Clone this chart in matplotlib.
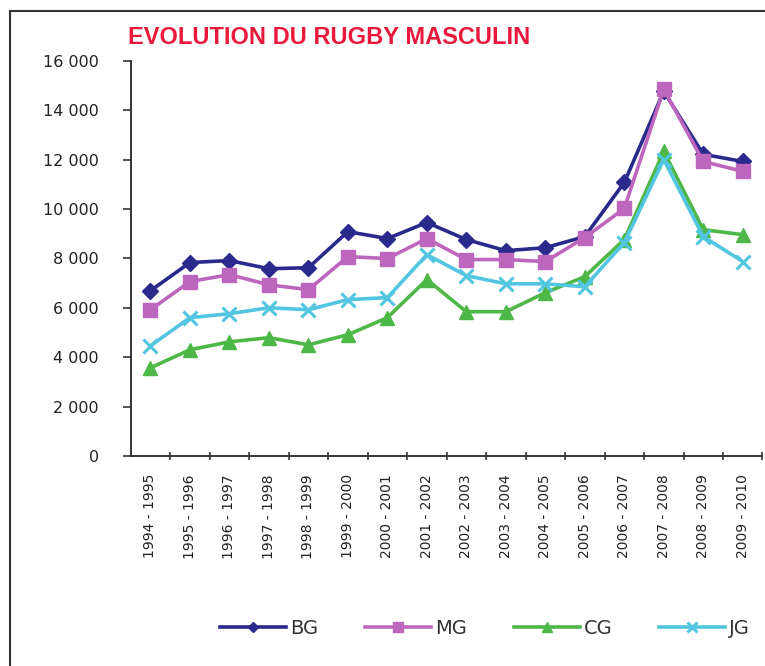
"""
Evolution du rugby masculin - line chart with 4 age categories.
"""
import matplotlib
matplotlib.use('Agg')
import matplotlib.pyplot as plt
from matplotlib.lines import Line2D

seasons = ['1994 - 1995', '1995 - 1996', '1996 - 1997', '1997 - 1998',
           '1998 - 1999', '1999 - 2000', '2000 - 2001', '2001 - 2002',
           '2002 - 2003', '2003 - 2004', '2004 - 2005', '2005 - 2006',
           '2006 - 2007', '2007 - 2008', '2008 - 2009', '2009 - 2010']

bg = [6690, 7830, 7910, 7580, 7620, 9080, 8800, 9450,
      8760, 8310, 8430, 8880, 11070, 14760, 12210, 11920]
mg = [5920, 7060, 7340, 6930, 6730, 8070, 7990, 8800,
      7950, 7950, 7870, 8840, 10020, 14840, 11920, 11520]
cg = [3570, 4300, 4620, 4790, 4500, 4910, 5600, 7140,
      5840, 5840, 6610, 7260, 8760, 12330, 9160, 8960]
jg = [4460, 5600, 5760, 6000, 5920, 6330, 6410, 8150,
      7300, 6970, 6970, 6850, 8640, 12000, 8880, 7870]

y_ticks = [0, 2000, 4000, 6000, 8000, 10000, 12000, 14000, 16000]
y_labels = ['0', '2 000', '4 000', '6 000', '8 000', '10 000',
            '12 000', '14 000', '16 000']

fig = plt.figure(figsize=(7.65, 6.66), dpi=100)
ax = fig.add_axes([0.1709, 0.3153, 0.8258, 0.5936])

x = range(len(seasons))
ax.plot(x, bg, color='#2a2a8c', lw=2.6, marker='D', ms=8, label='BG', zorder=3)
ax.plot(x, mg, color='#bd66bd', lw=2.6, marker='s', ms=10, label='MG', zorder=4)
ax.plot(x, cg, color='#4db848', lw=2.6, marker='^', ms=10, label='CG', zorder=5)
ax.plot(x, jg, color='#52c6e0', lw=2.6, marker='x', ms=10, mew=2.2,
        label='JG', zorder=6)

ax.set_xlim(-0.5, len(seasons) - 0.5)
ax.set_ylim(0, 16000)
ax.set_yticks(y_ticks)
ax.set_yticklabels(y_labels, fontsize=11.5, color='#222222')
ax.tick_params(axis='y', length=6, width=1.2, pad=17, color='#333333')

ax.set_xticks(list(x))
ax.set_xticklabels(seasons, rotation=90, fontsize=10, color='#222222')
ax.tick_params(axis='x', length=0, pad=13)
ax.set_xticks([i - 0.5 for i in range(1, len(seasons) + 1)], minor=True)
ax.tick_params(axis='x', which='minor', direction='inout', length=6,
               width=1.2, color='#333333')

for side in ('top', 'right'):
    ax.spines[side].set_visible(False)
for side in ('left', 'bottom'):
    ax.spines[side].set_linewidth(1.4)
    ax.spines[side].set_color('#333333')

leg = fig.legend(loc='center', bbox_to_anchor=(0.634, 0.057), ncol=4,
                 frameon=False, fontsize=14, handlelength=3.4,
                 columnspacing=2.4, handletextpad=0.2, markerscale=0.7)
for t in leg.get_texts():
    t.set_color('#333333')

fig.text(0.167, 0.943, 'EVOLUTION DU RUGBY MASCULIN', ha='left', va='center',
         fontsize=17, color='#e8193c', fontweight='bold',
         family=['Liberation Sans', 'DejaVu Sans'])

# page frame (left and top edges visible)
fig.add_artist(Line2D([10 / 765, 10 / 765], [0, 1 - 11 / 666],
                      transform=fig.transFigure, color='#333333', lw=1.5))
fig.add_artist(Line2D([10 / 765, 1], [1 - 11 / 666, 1 - 11 / 666],
                      transform=fig.transFigure, color='#333333', lw=1.5))

fig.savefig('out.png', dpi=100)
